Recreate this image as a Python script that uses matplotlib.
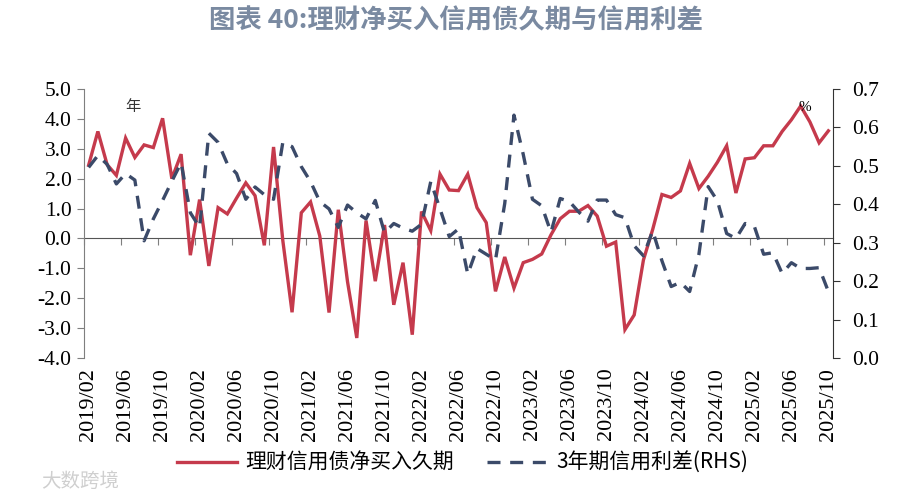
import numpy as np
import matplotlib.pyplot as plt
from matplotlib.lines import Line2D

plt.rcParams['font.family'] = ['Noto Sans CJK SC', 'DejaVu Sans']
plt.rcParams['axes.unicode_minus'] = False

# 月度数据 2019/02 - 2025/10
tick_labels = ['2019/02', '2019/06', '2019/10', '2020/02', '2020/06', '2020/10',
               '2021/02', '2021/06', '2021/10', '2022/02', '2022/06', '2022/10',
               '2023/02', '2023/06', '2023/10', '2024/02', '2024/06', '2024/10',
               '2025/02', '2025/06', '2025/10']

# 理财信用债净买入久期（年，左轴）
duration = [2.45, 3.58, 2.47, 2.11, 3.36, 2.71, 3.13, 3.04, 4.02, 2.00,
            2.82, -0.56, 1.30, -0.92, 1.03, 0.82, 1.35, 1.86, 1.43, -0.23,
            3.06, -0.07, -2.47, 0.86, 1.22, 0.08, -2.48, 0.96, -1.45, -3.33,
            0.60, -1.43, 0.45, -2.22, -0.81, -3.22, 0.90, 0.26, 2.15, 1.62,
            1.60, 2.15, 1.03, 0.53, -1.77, -0.62, -1.66, -0.81, -0.70, -0.52,
            0.12, 0.66, 0.91, 0.91, 1.10, 0.75, -0.26, -0.12, -3.05, -2.56,
            -0.72, 0.30, 1.47, 1.37, 1.59, 2.51, 1.67, 2.08, 2.55, 3.10,
            1.52, 2.66, 2.70, 3.10, 3.10, 3.58, 3.97, 4.43, 3.90, 3.20,
            3.60]

# 3年期信用利差（%，右轴）
spread = [0.496, 0.527, 0.504, 0.453, 0.480, 0.463, 0.305, 0.362, 0.410, 0.460,
          0.508, 0.378, 0.340, 0.585, 0.561, 0.505, 0.480, 0.413, 0.445, 0.425,
          0.413, 0.561, 0.550, 0.498, 0.459, 0.407, 0.388, 0.340, 0.398, 0.378,
          0.362, 0.410, 0.326, 0.350, 0.338, 0.330, 0.348, 0.459, 0.388, 0.316,
          0.336, 0.218, 0.285, 0.270, 0.255, 0.402, 0.632, 0.530, 0.413, 0.396,
          0.327, 0.415, 0.407, 0.380, 0.356, 0.411, 0.411, 0.373, 0.365, 0.292,
          0.266, 0.331, 0.253, 0.186, 0.197, 0.173, 0.270, 0.446, 0.409, 0.324,
          0.311, 0.350, 0.342, 0.270, 0.274, 0.220, 0.248, 0.233, 0.233, 0.235,
          0.173]

red = '#C53A4C'
navy = '#3B4A69'
serif = 'Liberation Serif'

fig = plt.figure(figsize=(9.12, 4.99), dpi=100)
ax = fig.add_axes([84 / 912, 1 - 358 / 499, 749 / 912, 269 / 499])

x = np.arange(len(duration)) + 0.5
ax.plot(x, duration, color=red, lw=2.4, solid_joinstyle='miter', zorder=3)
ax.set_xlim(0, 81)
ax.set_ylim(-4, 5)
ax.set_yticks(np.arange(-4, 5.01, 1))
ax.set_yticklabels(['%.1f' % v for v in np.arange(-4, 5.01, 1)])

ax2 = ax.twinx()
ax2.plot(x, spread, color=navy, lw=2.4, dashes=(3.9, 2.9))
ax2.set_ylim(0, 0.7)
ax2.set_yticks(np.arange(0, 0.71, 0.1))
ax2.set_yticklabels(['%.1f' % v for v in np.arange(0, 0.71, 0.1)])

for a in (ax, ax2):
    a.spines['top'].set_visible(False)
    a.spines['bottom'].set_visible(False)
ax.spines['right'].set_visible(False)
ax2.spines['left'].set_visible(False)
ax.spines['left'].set_color('#7F7F7F')
ax2.spines['right'].set_color('#333333')

ax.tick_params(axis='y', direction='out', length=5, color='#7F7F7F',
               labelsize=15.5, pad=4, labelfontfamily=serif)
ax2.tick_params(axis='y', direction='out', length=5, color='#333333',
                labelsize=15.5, pad=9, labelfontfamily=serif)

# 日期标签放在底部
ax.set_xticks(x[::4])
ax.set_xticklabels(tick_labels, rotation=90)
ax.tick_params(axis='x', length=0, pad=7, labelsize=16, labelfontfamily=serif)

# 0 轴上的刻度线
sec = ax.secondary_xaxis(4 / 9)
sec.set_xticks(np.arange(0, 81, 4))
sec.set_xticklabels([])
sec.tick_params(direction='out', length=5, color='#7F7F7F')
sec.spines['bottom'].set_color('#555555')

ax.text(0.065, 0.935, '年', transform=ax.transAxes, fontsize=11,
        ha='center', va='center', color='#333333')
ax.text(0.962, 0.93, '%', transform=ax.transAxes, fontsize=11,
        ha='center', va='center', color='black', family=serif)

fig.text(0.5, 0.958, '图表 40:理财净买入信用债久期与信用利差', ha='center', va='center',
         fontsize=19, fontweight='bold', color='#7A8AA1')

handles = [Line2D([], [], color=red, lw=2.4),
           Line2D([], [], color=navy, lw=2.4, dashes=(3.9, 2.9))]
fig.legend(handles, ['理财信用债净买入久期', '3年期信用利差(RHS)'], loc='center',
           bbox_to_anchor=(0.507, 0.072), ncol=2, frameon=False, fontsize=15,
           handlelength=2.9, columnspacing=1.6, handletextpad=0.4)

fig.text(0.045, 0.035, '大数跨境', fontsize=14, color='#CFCFCF', va='center')

fig.savefig('out.png', dpi=100)
